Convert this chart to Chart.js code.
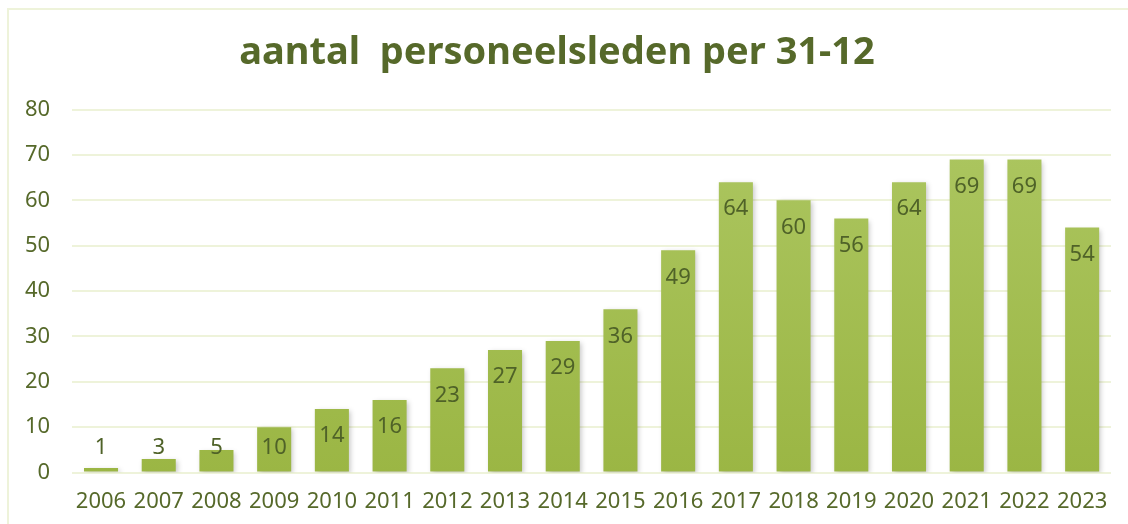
<!DOCTYPE html>
<html>
<head>
<meta charset="utf-8">
<script src="https://cdn.jsdelivr.net/npm/chart.js@4"></script>
<style>
  html, body { margin: 0; padding: 0; background: #fff; }
  #wrap { position: relative; width: 1128px; height: 524px; overflow: hidden; }
  #frame { position: absolute; left: 7px; top: 8px; width: 1130px; height: 530px; border: 2px solid #eef3da; box-sizing: border-box; }
  canvas { position: absolute; left: 0; top: 0; }
</style>
</head>
<body>
<div id="wrap">
  <div id="frame"></div>
  <canvas id="chart" width="1128" height="524"></canvas>
</div>
<script>
// chart data
const years = ['2006', '2007', '2008', '2009', '2010', '2011', '2012', '2013', '2014',
               '2015', '2016', '2017', '2018', '2019', '2020', '2021', '2022', '2023'];
const staff = [1, 3, 5, 10, 14, 16, 23, 27, 29, 36, 49, 64, 60, 56, 64, 69, 69, 54];
const yTicks = [0, 10, 20, 30, 40, 50, 60, 70, 80];

const olive = '#56692a';
const FONT = 'Noto Sans';

// value labels, Excel style "inside end"
const valueLabels = {
    id: 'valueLabels',
    afterDatasetsDraw(chart) {
        const { ctx } = chart;
        const meta = chart.getDatasetMeta(0);
        ctx.save();
        ctx.font = '22px "' + FONT + '"';
        ctx.fillStyle = '#4f6228';
        ctx.textAlign = 'center';
        ctx.textBaseline = 'middle';
        meta.data.forEach((bar, i) => {
            const y = Math.min(bar.y + 27, bar.base - 24);
            ctx.fillText(String(staff[i]), bar.x, y);
        });
        ctx.restore();
    }
};

// soft shadow behind the bars
const barShadow = {
    id: 'barShadow',
    beforeDatasetsDraw(chart) {
        const { ctx } = chart;
        ctx.save();
        ctx.shadowColor = 'rgba(0,0,0,0.22)';
        ctx.shadowBlur = 5;
        ctx.shadowOffsetX = 2;
        ctx.shadowOffsetY = 2;
    },
    afterDatasetsDraw(chart) {
        chart.ctx.restore();
    }
};

const ctx = document.getElementById('chart').getContext('2d');
new Chart(ctx, {
    type: 'bar',
    data: {
        labels: years,
        datasets: [{
            data: staff,
            backgroundColor: (c) => {
                const area = c.chart.chartArea;
                if (!area) return '#a3bd52';
                const g = c.chart.ctx.createLinearGradient(0, area.top, 0, area.bottom);
                g.addColorStop(0, '#adc762');
                g.addColorStop(1, '#9bb644');
                return g;
            },
            borderWidth: 0,
            categoryPercentage: 1,
            barPercentage: 0.59
        }]
    },
    options: {
        responsive: false,
        animation: false,
        layout: { padding: { left: 3, right: 17, top: 30, bottom: 1 } },
        plugins: {
            legend: { display: false },
            tooltip: { enabled: false },
            title: {
                display: true,
                text: 'aantal  personeelsleden per 31-12',
                color: olive,
                font: { family: FONT, size: 38, weight: 'bold' },
                padding: { top: 0, bottom: 34 }
            }
        },
        scales: {
            x: {
                grid: { display: false },
                border: { display: false },
                ticks: {
                    color: olive,
                    font: { family: FONT, size: 22 },
                    padding: 8,
                    maxRotation: 0,
                    autoSkip: false
                }
            },
            y: {
                min: 0,
                max: 80,
                afterBuildTicks: (axis) => { axis.ticks = yTicks.map(v => ({ value: v })); },
                grid: { color: '#eef3da', lineWidth: 2, drawTicks: false },
                border: { display: false },
                ticks: {
                    color: olive,
                    font: { family: FONT, size: 22 },
                    padding: 22
                }
            }
        }
    },
    plugins: [barShadow, valueLabels]
});
</script>
</body>
</html>
